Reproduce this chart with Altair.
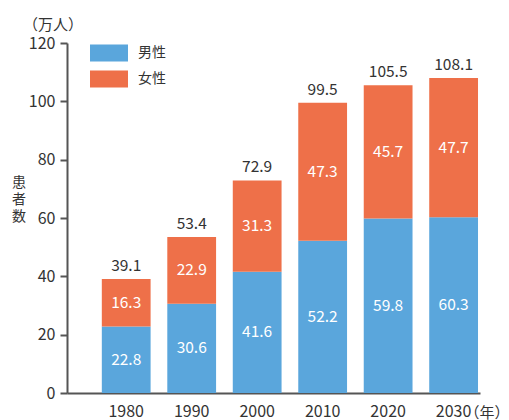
import altair as alt
import pandas as pd

years = ["1980", "1990", "2000", "2010", "2020", "2030"]
male = [22.8, 30.6, 41.6, 52.2, 59.8, 60.3]
female = [16.3, 22.9, 31.3, 47.3, 45.7, 47.7]
totals = [39.1, 53.4, 72.9, 99.5, 105.5, 108.1]
series = ["男性", "女性"]
colors = ["#5AA6DC", "#EE7049"]
y_ticks = [0, 20, 40, 60, 80, 100, 120]
y_title_lines = ["患", "者", "数"]
unit_y = "（万人）"
unit_x = "（年）"

rows = []
for i, yr in enumerate(years):
    rows.append({"year": yr, "sex": series[0], "value": male[i], "ord": 0})
    rows.append({"year": yr, "sex": series[1], "value": female[i], "ord": 1})
df = pd.DataFrame(rows)
tot = pd.DataFrame({"year": years, "total": totals})
unit = pd.DataFrame({"year": [years[-1]], "t": [unit_x], "z": [0]})
one = pd.DataFrame({"a": [0]})

FONT = "Noto Sans CJK JP"
AX = "#555555"
TXT = "#333333"

xscale = alt.Scale(domain=years, paddingInner=0.255, paddingOuter=0.281, align=0.946)
yscale = alt.Scale(domain=[0, 120], nice=False)

bars = alt.Chart(df).mark_bar().encode(
    x=alt.X("year:N", scale=xscale, axis=alt.Axis(
        title=None, labelAngle=0, ticks=False, domainColor=AX, domainWidth=2,
        labelFontSize=16, labelColor=TXT, labelFont=FONT, labelPadding=10)),
    y=alt.Y("value:Q", stack="zero", scale=yscale, axis=alt.Axis(
        values=y_ticks, grid=False, domainColor=AX, domainWidth=2,
        tickColor=AX, tickWidth=2, tickSize=7, labelFontSize=16, labelColor=TXT,
        labelFont=FONT, labelPadding=5, title=None)),
    color=alt.Color("sex:N", scale=alt.Scale(domain=series, range=colors), legend=alt.Legend(
        title=None, orient="none", legendX=35, legendY=3,
        symbolType="M-3.8,-1.7h7.6v3.4h-7.6z", symbolSize=100, symbolStrokeWidth=0,
        symbolOpacity=1, labelOffset=22, rowPadding=8, labelFontSize=14,
        labelColor=TXT, labelFont=FONT)),
    order=alt.Order("ord:Q"),
)

inner = alt.Chart(df).transform_stack(
    stack="value", groupby=["year"], as_=["v0", "v1"],
    sort=[alt.SortField("ord", order="ascending")]
).transform_calculate(mid="(datum.v0 + datum.v1) / 2").mark_text(
    color="white", fontSize=15.5, font=FONT, baseline="middle"
).encode(
    x=alt.X("year:N", title=None),
    y=alt.Y("mid:Q", title=None),
    text=alt.Text("value:Q", format=".1f"),
)

top = alt.Chart(tot).mark_text(
    color=TXT, fontSize=15.5, font=FONT, baseline="middle", dy=-13
).encode(
    x=alt.X("year:N", title=None),
    y=alt.Y("total:Q", title=None),
    text=alt.Text("total:Q", format=".1f"),
)

unit_txt = alt.Chart(unit).mark_text(
    color=TXT, fontSize=15, font=FONT, baseline="middle", align="left", dx=11, dy=20
).encode(
    x=alt.X("year:N", title=None),
    y=alt.Y("z:Q", title=None),
    text="t:N",
)

ytitle = alt.Chart(one).mark_text(
    text=y_title_lines, color=TXT, fontSize=14, font=FONT, align="center",
    baseline="middle", lineHeight=17
).encode(x=alt.value(-48), y=alt.value(140))

chart = alt.layer(bars, inner, top, unit_txt, ytitle).properties(
    width=413, height=350,
    title=alt.TitleParams(text=unit_y, anchor="start", frame="group", dx=-44, dy=9,
                          baseline="middle", offset=4, fontSize=15,
                          fontWeight="normal", color=TXT, font=FONT),
    autosize=alt.AutoSizeParams(type="none"),
    padding={"left": 59, "top": 35, "right": 21, "bottom": 27},
).configure_view(stroke=None)

chart.save("out.html", embed_options={"renderer": "svg", "actions": False})
